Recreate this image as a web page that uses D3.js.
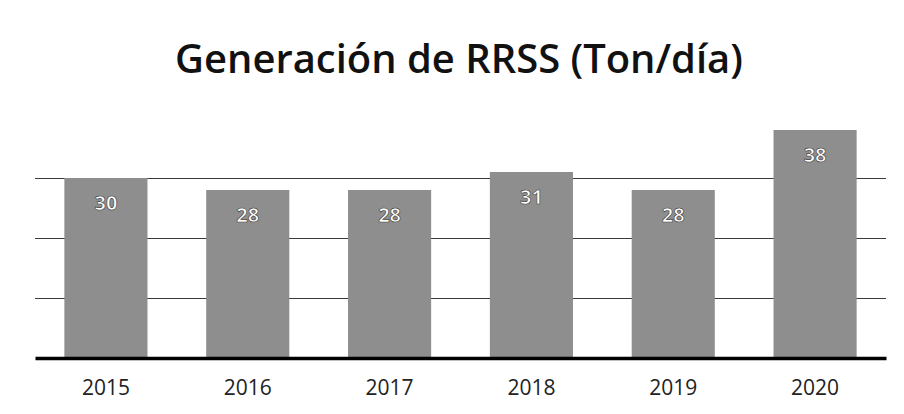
<!DOCTYPE html>
<html>
<head>
<meta charset="utf-8">
<title>Generación de RRSS</title>
<script src="https://d3js.org/d3.v7.min.js"></script>
<style>
  body { margin: 0; background: #fff; }
  text { font-family: "Open Sans", sans-serif; }
</style>
</head>
<body>
<svg id="chart" width="904" height="414"></svg>
<script>
// data
var years = ["2015", "2016", "2017", "2018", "2019", "2020"];
var tons = [30, 28, 28, 31, 28, 38];
var gridTicks = [10, 20, 30];
var title = "Generación de RRSS (Ton/día)";

var svg = d3.select("#chart"),
    margin = {top: 118, right: 18, bottom: 56, left: 35},
    width = +svg.attr("width") - margin.left - margin.right,
    height = +svg.attr("height") - margin.top - margin.bottom,
    g = svg.append("g").attr("transform", "translate(" + margin.left + "," + margin.top + ")");

var x = d3.scaleBand()
    .domain(years)
    .range([0, width])
    .paddingInner(0.414)
    .paddingOuter(0.207);

var y = d3.scaleLinear()
    .domain([0, 40])
    .range([height, 0]);

// title, squeezed to the width it has in the picture
var t = svg.append("text")
    .attr("x", 459)
    .attr("y", 73)
    .attr("text-anchor", "middle")
    .attr("font-weight", 600)
    .attr("font-size", 42)
    .attr("fill", "#111")
    .text(title);
var tw = t.node().getComputedTextLength();
t.attr("font-size", 42 * 568 / tw);

// gridlines
g.append("g")
    .call(d3.axisLeft(y).tickValues(gridTicks).tickSize(-width).tickFormat(""))
    .call(a => a.select(".domain").remove())
    .call(a => a.selectAll(".tick line").attr("stroke", "#3a3a3a").attr("stroke-width", 1.2));

// bars
g.selectAll(".bar")
  .data(tons)
  .enter().append("rect")
    .attr("class", "bar")
    .attr("x", (d, i) => x(years[i]))
    .attr("y", d => y(d))
    .attr("width", x.bandwidth())
    .attr("height", d => height - y(d))
    .attr("fill", "#8e8e8e");

// value labels
g.selectAll(".val")
  .data(tons)
  .enter().append("text")
    .attr("class", "val")
    .attr("x", (d, i) => x(years[i]) + x.bandwidth() / 2)
    .attr("y", d => y(d) + 32)
    .attr("text-anchor", "middle")
    .attr("font-size", 20)
    .attr("font-weight", 700)
    .attr("fill", "#fff")
    .attr("stroke", "#444")
    .attr("stroke-width", 0.7)
    .text(d => d);

// baseline + year labels
var xAxis = g.append("g")
    .attr("transform", "translate(0," + height + ")")
    .call(d3.axisBottom(x).tickSize(0).tickPadding(22));
xAxis.select(".domain").attr("stroke", "#000").attr("stroke-width", 3.5);
xAxis.selectAll(".tick text")
    .attr("font-size", 21)
    .attr("fill", "#222")
    .style("font-family", "'Open Sans', sans-serif");
</script>
</body>
</html>
